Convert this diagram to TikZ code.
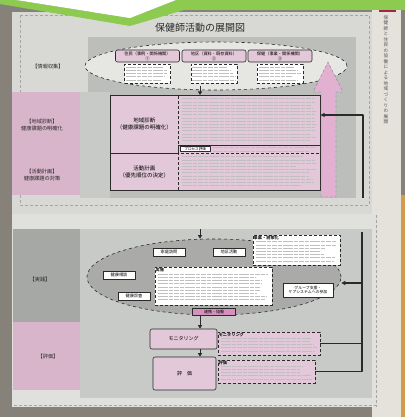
\documentclass[tikz,border=0pt]{standalone}
\usepackage{fontspec}
\setmainfont{Noto Sans CJK JP}
\usetikzlibrary{positioning,arrows.meta,shapes.geometric}
\definecolor{leaf}{HTML}{8DCB50}
\definecolor{desk}{HTML}{86827A}
\definecolor{paper}{HTML}{D8D9D5}
\definecolor{sheet}{HTML}{E4E2DB}
\definecolor{panel}{HTML}{BCBEBB}
\definecolor{panelhi}{HTML}{C7CAC7}
\definecolor{paneldk}{HTML}{A6A8A5}
\definecolor{rose}{HTML}{D8B5CB}
\definecolor{roselt}{HTML}{E2C8D8}
\definecolor{rosedk}{HTML}{D690BE}
\definecolor{oval}{HTML}{E6E7E3}
\definecolor{ovaldk}{HTML}{AAABA8}
\definecolor{ink}{HTML}{2A2A2A}
\definecolor{tab}{HTML}{A2234F}
\definecolor{wood}{HTML}{D49B4C}
\tikzset{
  pinkbox/.style={draw=ink, fill=roselt, rounded corners=2pt, line width=0.6pt, align=center, inner sep=0pt, font=\fontsize{4.2}{5.2}\selectfont},
  cellbox/.style={draw=ink, fill=roselt, line width=0.5pt, anchor=north west, inner sep=0pt, align=center, font=\fontsize{5.5}{6.8}\selectfont},
  notebox/.style={draw=ink, densely dashed, line width=0.45pt, fill=white, anchor=north west, inner sep=0pt},
  tagbox/.style={draw=ink, fill=white, line width=0.45pt, inner sep=0.8pt, align=center, font=\fontsize{4.2}{5}\selectfont},
  sidelabel/.style={align=center, font=\fontsize{5.2}{7.5}\selectfont, text=ink},
  head/.style={anchor=north west, inner sep=0.5pt, font=\bfseries\fontsize{4.2}{5}\selectfont, text=ink},
  txt/.style={ink!30, line width=0.75pt, dash pattern=on 4.5pt off 0.9pt},
  loop/.style={ink, line width=1.4pt},
  tip/.style={-{Triangle[length=3.5pt,width=4pt]}, ink, line width=0.9pt}
}
\pgfmathsetseed{11}
\begin{document}
\begin{tikzpicture}[x=1pt, y=-1pt, line join=round]
\useasboundingbox (0,0) rectangle (405,417);
\fill[desk] (0,0) rectangle (405,417);
\fill[sheet] (372,8) rectangle (401,417);
\fill[wood] (401,195) rectangle (405,417);
\fill[tab] (379,5) rectangle (396,12);
\foreach \c [count=\i] in {保,健,師,と,住,民,の,協,働,に,よ,る,地,域,づ,く,り,の,展,開}
  \node[font=\fontsize{4.6}{5}\selectfont, text=ink!80, inner sep=0] (side\i) at (386,{12+5.5*\i}) {\c};
% upper page
\fill[paper] (12,12) rectangle (372,214);
\draw[gray!70, densely dashed, line width=0.4pt] (20,15) rectangle (369,205);
\fill[panel] (88,37) rectangle (356,198);
\fill[panelhi] (80,92) rectangle (110,198);
\fill[rose] (12,92) rectangle (80,195);
\node[font=\fontsize{10}{12}\selectfont, text=ink] (title) at (200,28) {保健師活動の展開図};
\node[sidelabel] (lblInfo) at (48,67) {【情報収集】};
\node[sidelabel] (lblDiag) at (42,125) {【地域診断】\\健康課題の明確化};
\node[sidelabel] (lblPlan) at (42,175) {【活動計画】\\健康課題の対策};
\node[ellipse, draw=ink, dashed, line width=0.6pt, fill=oval, minimum width=262, minimum height=48] (infoOval) at (216,66) {};
\foreach \n/\x/\t/\m in {srcA/147.5/住民（事例・関係機関）/①, srcB/214/地区（資料・既存資料）/②, srcC/280/保健（事業・関係機関）/③} {
  \node[pinkbox, minimum width=64, minimum height=12] (\n) at (\x,56) {\t\\\m};
  \node[notebox, anchor=north, minimum width=46, minimum height=19] (\n note) at (\x,64) {};
}
\node[cellbox, minimum width=68, minimum height=58] (diagL) at (110,95) {地域診断\\（健康課題の明確化）};
\node[cellbox, minimum width=68, minimum height=37] (planL) at (110,153) {活動計画\\（優先順位の決定）};
\node[cellbox, densely dashed, minimum width=142, minimum height=50] (diagR) at (178,95) {};
\node[cellbox, minimum width=142, minimum height=8] (procR) at (178,145) {};
\node[tagbox, anchor=west, minimum width=30, font=\fontsize{3.6}{4}\selectfont] (procTag) at (180,149) {プロセス評価};
\node[cellbox, densely dashed, minimum width=142, minimum height=37] (planR) at (178,153) {};
\draw[ink, line width=0.7pt] (diagL.north west) rectangle (planR.south east);
\foreach \xa/\xb/\ya/\n in {126/169/64/5, 192/236/64/5, 259/301/64/5, 182/316/95.5/14, 182/316/153.5/10, 213/316/144.5/2}
  \foreach \k in {1,...,\n}
    \draw[txt] (\xa,{\ya+3.2*\k}) -- ({\xb-22*rnd*rnd},{\ya+3.2*\k});
\coordinate (inArr) at (200,86);
\draw[tip] (inArr) -- (inArr |- diagL.north);
\fill[rosedk!70!white, draw=ink!60, densely dashed, line width=0.4pt] (321,197) -- (321,92) -- (313,92) -- (328,62) -- (343,92) -- (336,92) -- (336,197) -- cycle;
\coordinate (railUp) at (363,198);
\coordinate (railTop) at (363,115);
\draw[loop, -{Triangle[length=4pt,width=4pt]}] (railUp) -- (railTop) -- (railTop -| diagR.east);
% lower page
\fill[paper!80!white] (12,214) rectangle (378,407);
\draw[gray!70, densely dashed, line width=0.4pt] (376,215) -- (376,407) (14,405) -- (376,405);
\fill[panelhi] (80,229) rectangle (372,398);
\fill[paneldk] (13,229) rectangle (80,322);
\fill[rose] (13,322) rectangle (80,390);
\node[sidelabel] (lblAct) at (40,280) {【実践】};
\node[sidelabel] (lblEval) at (48,357) {【評価】};
\node[ellipse, draw=ink, dashed, line width=0.6pt, fill=ovaldk, minimum width=254, minimum height=76] (actOval) at (214,277) {};
\coordinate (actIn) at (200,229);
\draw[tip] (actIn) -- (actIn |- actOval.north);
\node[notebox, minimum width=87, minimum height=30] (policy) at (253,235) {};
\node[head] (policyHd) at (policy.north west) {事業・施策化};
\node[tagbox, minimum width=32, minimum height=8] (visit) at (169,252) {家庭訪問};
\node[tagbox, minimum width=32, minimum height=8] (area) at (229,252) {地区活動};
\node[tagbox, minimum width=32, minimum height=8] (consult) at (119,275) {健康相談};
\node[tagbox, minimum width=32, minimum height=8] (checkup) at (134,296) {健康診査};
\node[notebox, minimum width=117, minimum height=38] (practice) at (155,267) {};
\node[head] (practiceHd) at (practice.north west) {実施};
\node[tagbox, minimum width=50, minimum height=14, font=\fontsize{3.9}{4.8}\selectfont] (care) at (308,290) {グループ支援・\\ケアシステムへの参加};
\node[draw=ink, fill=rosedk, line width=0.45pt, minimum width=43, minimum height=7, inner sep=0, font=\fontsize{4}{5}\selectfont] (link) at (214,312) {連携・協働};
\node[pinkbox, minimum width=67, minimum height=20, font=\fontsize{5}{6}\selectfont] (monitor) at (183.5,339) {モニタリング};
\node[pinkbox, minimum width=63, minimum height=33, font=\fontsize{5}{6}\selectfont] (evaluate) at (184.5,373.5) {評\quad 価};
\node[notebox, fill=roselt, minimum width=102, minimum height=23] (monNote) at (218,332) {};
\node[head] (monHd) at (monNote.north west) {モニタリング};
\node[notebox, fill=roselt, minimum width=97, minimum height=23] (evalNote) at (218,360) {};
\node[head] (evalHd) at (evalNote.north west) {評価};
\foreach \xa/\xb/\ya/\n in {256/337/238.5/7, 158/269/271/9, 221/317/335/5, 221/312/363/5}
  \foreach \k in {1,...,\n}
    \draw[txt] (\xa,{\ya+3.2*\k}) -- ({\xb-22*rnd*rnd},{\ya+3.2*\k});
\coordinate (spine) at (200,0);
\draw[tip] (link.south -| spine) -- (monitor.north -| spine);
\draw[tip] (monitor.south -| spine) -- (evaluate.north -| spine);
\coordinate (rail) at (362,232);
\draw[loop] (monNote.east) -- (monNote.east -| rail);
\draw[loop] (evalNote.east) -- (evalNote.east -| rail) -- (rail);
\coordinate (careIn) at (362,283);
\draw[loop, -{Triangle[length=4pt,width=4pt]}] (careIn) -- (careIn -| actOval.east);
% banner
\fill[leaf] (0,0) -- (16,0) -- (130,18) -- (176,0) -- (405,0) -- (405,10) -- (184,10) -- (130,26) -- (0,4) -- cycle;
\fill[white] (16,0) -- (176,0) -- (130,18) -- cycle;
\end{tikzpicture}
\end{document}
